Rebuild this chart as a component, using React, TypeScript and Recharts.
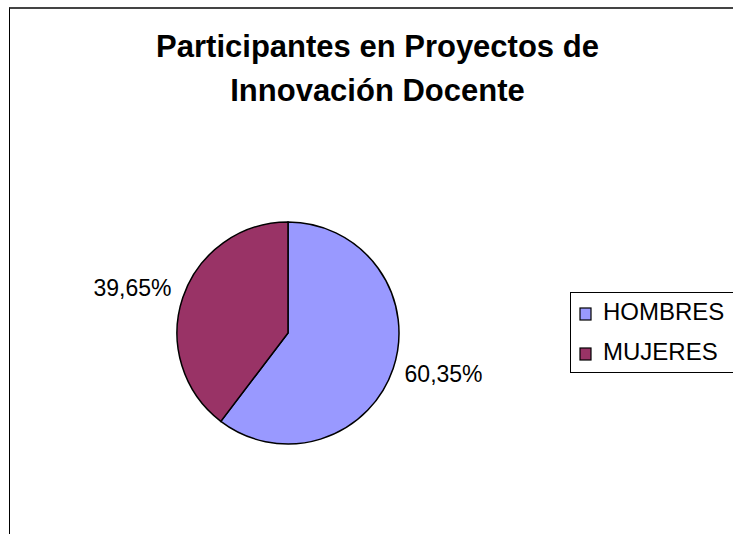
import { PieChart, Pie, Cell, Legend } from 'recharts';

const categories = ['HOMBRES', 'MUJERES'];
const shares = [60.35, 39.65];
const COLORS = ['#9999FF', '#993366'];
const titleLines = ['Participantes en Proyectos de', 'Innovación Docente'];

const chartData = categories.map((name, i) => ({ name, value: shares[i] }));

const FONT = '"Liberation Sans", Arial, sans-serif';
const RAD = Math.PI / 180;

const renderLabel = (props: any) => {
  const { cx, cy, midAngle, outerRadius, value } = props;
  const r = outerRadius + 12;
  const x = cx + r * Math.cos(-midAngle * RAD);
  const y = cy + r * Math.sin(-midAngle * RAD);
  const right = x > cx;
  return (
    <text
      x={x}
      y={y + (right ? 10 : 2)}
      textAnchor={right ? 'start' : 'end'}
      fontFamily={FONT}
      fontSize={23}
      fill="#000"
    >
      {value.toFixed(2).replace('.', ',')}%
    </text>
  );
};

const renderLegend = (props: any) => {
  const items = props.payload || [];
  return (
    <svg width={170} height={82} style={{ display: 'block' }}>
      <rect x={0.5} y={0.5} width={200} height={80} fill="#fff" stroke="#000" />
      {items.map((item: any, i: number) => (
        <g key={`leg-${i}`}>
          <rect
            x={10}
            y={16 + i * 40}
            width={11}
            height={12}
            fill={COLORS[i % COLORS.length]}
            stroke="#000"
            strokeWidth={1.2}
          />
          <text x={33} y={28 + i * 40} fontFamily={FONT} fontSize={24} fill="#000">
            {item.value}
          </text>
        </g>
      ))}
    </svg>
  );
};

export default function App() {
  return (
    <div
      style={{
        position: 'absolute',
        left: 0,
        top: 0,
        width: 733,
        height: 534,
        overflow: 'hidden',
        background: '#fff',
      }}
    >
      <div
        style={{
          position: 'absolute',
          left: 9,
          top: 7,
          width: 760,
          height: 560,
          borderTop: '2px solid #444',
          borderLeft: '1px solid #000',
        }}
      />
      {titleLines.map((line, i) => (
        <div
          key={line}
          style={{
            position: 'absolute',
            left: 0,
            top: 25 + i * 44,
            width: 755,
            textAlign: 'center',
            fontFamily: FONT,
            fontWeight: 'bold',
            fontSize: 31,
            lineHeight: '44px',
            color: '#000',
            whiteSpace: 'nowrap',
          }}
        >
          {line}
        </div>
      ))}
      <div style={{ position: 'absolute', left: 0, top: 0 }}>
        <PieChart width={733} height={534} margin={{ top: 0, right: 0, bottom: 0, left: 0 }}>
          <Pie
            data={chartData}
            dataKey="value"
            nameKey="name"
            cx={288}
            cy={333}
            outerRadius={111}
            startAngle={90}
            endAngle={-270}
            stroke="#000"
            strokeWidth={1.5}
            label={renderLabel}
            labelLine={false}
            isAnimationActive={false}
          >
            {chartData.map((_, index) => (
              <Cell key={`cell-${index}`} fill={COLORS[index % COLORS.length]} />
            ))}
          </Pie>
          <Legend
            content={renderLegend}
            wrapperStyle={{ position: 'absolute', left: 570, top: 292, width: 170, height: 82 }}
          />
        </PieChart>
      </div>
    </div>
  );
}
